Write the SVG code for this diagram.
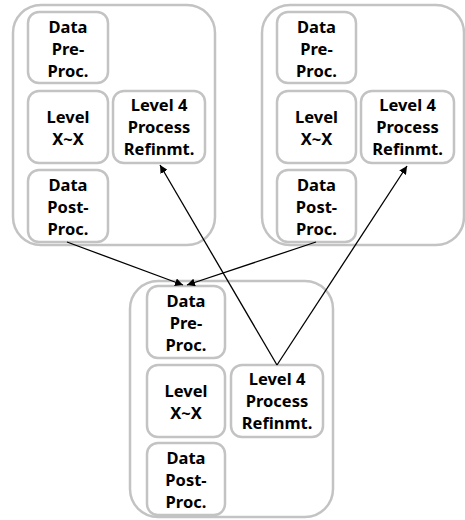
<svg xmlns="http://www.w3.org/2000/svg" width="465" height="520" viewBox="0 0 465 520">
<style>
.outer{fill:#fff;stroke:#c3c3c3;stroke-width:2.5}
.box{fill:#fff;stroke:#c3c3c3;stroke-width:2.5}
text{font-family:"Noto Sans","Noto Sans CJK KR","Liberation Sans",sans-serif;font-weight:bold;font-size:16.5px;fill:#000;text-anchor:middle}
.edge{stroke:#000;stroke-width:1.3;fill:none;marker-end:url(#ah)}
</style>
<defs>
<marker id="ah" viewBox="0 0 10 10" refX="10" refY="5" markerWidth="8" markerHeight="8" markerUnits="userSpaceOnUse" orient="auto">
<path d="M0,0 L10,5 L0,10 z" fill="#000"/>
</marker>
</defs>
<g id="group-left">
<rect class="outer" x="13" y="5" width="202" height="240" rx="28"/>
</g>
<g id="group-right">
<rect class="outer" x="262" y="5" width="202" height="240" rx="28"/>
</g>
<g id="group-bottom">
<rect class="outer" x="130" y="281" width="203" height="236" rx="28"/>
</g>
<g id="L-pre"><rect class="box" x="28" y="12" width="80" height="71" rx="11"/><text x="68" y="32.5">Data</text><text x="68" y="54.5">Pre-</text><text x="68" y="76.5">Proc.</text></g>
<g id="L-level"><rect class="box" x="28" y="91" width="80" height="72" rx="11"/><text x="68" y="123">Level</text><text x="68" y="145">X~X</text></g>
<g id="L-post"><rect class="box" x="28" y="170" width="80" height="72" rx="11"/><text x="68" y="190.5">Data</text><text x="68" y="212.5">Post-</text><text x="68" y="234.5">Proc.</text></g>
<g id="L-l4"><rect class="box" x="113" y="91" width="92" height="72" rx="11"/><text x="159" y="111">Level 4</text><text x="159" y="133">Process</text><text x="159" y="155">Refinmt.</text></g>
<g id="R-pre"><rect class="box" x="277" y="12" width="79" height="71" rx="11"/><text x="316.5" y="32.5">Data</text><text x="316.5" y="54.5">Pre-</text><text x="316.5" y="76.5">Proc.</text></g>
<g id="R-level"><rect class="box" x="277" y="91" width="79" height="72" rx="11"/><text x="316.5" y="123">Level</text><text x="316.5" y="145">X~X</text></g>
<g id="R-post"><rect class="box" x="277" y="170" width="79" height="72" rx="11"/><text x="316.5" y="190.5">Data</text><text x="316.5" y="212.5">Post-</text><text x="316.5" y="234.5">Proc.</text></g>
<g id="R-l4"><rect class="box" x="361" y="91" width="93" height="72" rx="11"/><text x="407.5" y="111">Level 4</text><text x="407.5" y="133">Process</text><text x="407.5" y="155">Refinmt.</text></g>
<g id="B-pre"><rect class="box" x="147" y="286" width="78" height="72" rx="11"/><text x="186" y="306.5">Data</text><text x="186" y="328.5">Pre-</text><text x="186" y="350.5">Proc.</text></g>
<g id="B-level"><rect class="box" x="147" y="365" width="78" height="72" rx="11"/><text x="186" y="397">Level</text><text x="186" y="419">X~X</text></g>
<g id="B-post"><rect class="box" x="147" y="443" width="78" height="72" rx="11"/><text x="186" y="463.5">Data</text><text x="186" y="485.5">Post-</text><text x="186" y="507.5">Proc.</text></g>
<g id="B-l4"><rect class="box" x="231" y="365" width="92" height="72" rx="11"/><text x="277" y="385">Level 4</text><text x="277" y="407">Process</text><text x="277" y="429">Refinmt.</text></g>
<g id="connectors">
<line class="edge" x1="67" y1="242" x2="183" y2="285"/>
<line class="edge" x1="316" y1="242" x2="187" y2="285"/>
<line class="edge" x1="277" y1="365" x2="160" y2="165"/>
<line class="edge" x1="277" y1="365" x2="407" y2="166"/>
</g>
</svg>
